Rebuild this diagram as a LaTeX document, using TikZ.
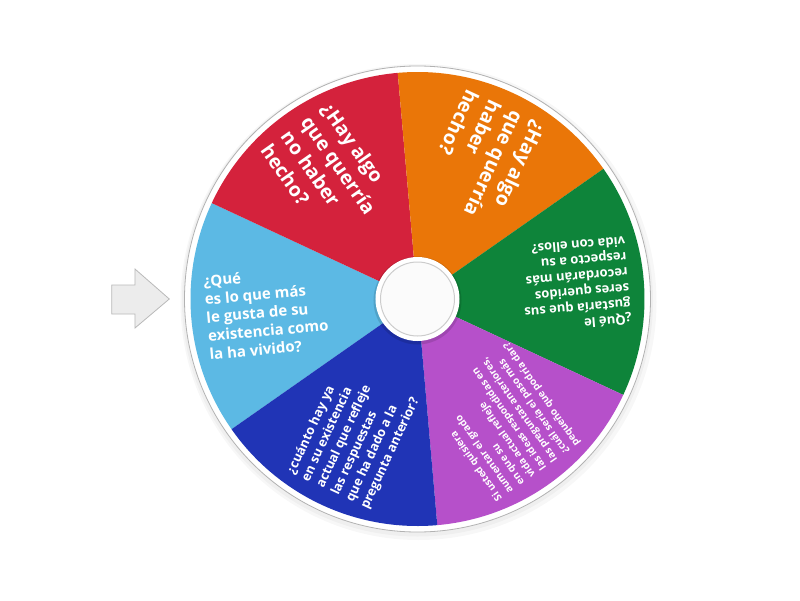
\documentclass[tikz,border=0pt]{standalone}
\usepackage{fontspec}
\setmainfont{Open Sans}
\definecolor{celeste}{RGB}{92,185,228}
\definecolor{rojo}{RGB}{212,34,60}
\definecolor{naranja}{RGB}{234,118,8}
\definecolor{verde}{RGB}{14,132,58}
\definecolor{morado}{RGB}{182,80,202}
\definecolor{azul}{RGB}{32,52,182}
\tikzset{
  qtext/.style={text=white, align=left, anchor=west, inner sep=0pt},
}

\begin{document}
\begin{tikzpicture}[x=1pt,y=1pt]
\useasboundingbox (-417.5,-301) rectangle (382.5,299);
% borde de la ruleta
\fill[black,opacity=0.03] (1,-3) circle[radius=238pt];
\fill[black,opacity=0.03] (0,-2) circle[radius=235.5pt];
\filldraw[fill=white,draw=gray!60,line width=0.8pt] (0,0) circle[radius=233pt];
\foreach \a/\c in {155/celeste,95/rojo,35/naranja,-25/verde,-85/morado,-145/azul}
  \fill[\c] (0,0) -- (\a:227) arc[start angle=\a,delta angle=60,radius=227pt] -- cycle;
% centro
\fill[black,opacity=0.12] (0,-1.5) circle[radius=44pt];
\fill[white] (0,0) circle[radius=42pt];
\draw[gray!40,line width=1pt,fill=gray!3] (0,0) circle[radius=37pt];
% preguntas
\node[qtext,rotate=5,font=\bfseries\fontsize{15}{18.3}\selectfont] (q1) at (185:212)
  {¿Qué\\es lo que más\\le gusta de su\\existencia como\\la ha vivido?};
\node[qtext,rotate=-55,font=\bfseries\fontsize{19.5}{24.6}\selectfont] (q2) at (125:212)
  {¿Hay algo\\que querría\\no haber\\hecho?};
\node[qtext,rotate=245,font=\bfseries\fontsize{19.5}{24.6}\selectfont] (q3) at (65:212)
  {¿Hay algo\\que querría\\haber\\hecho?};
\node[qtext,rotate=185,font=\bfseries\fontsize{13}{15.7}\selectfont] (q4) at (5:212)
  {¿Qué le\\gustaría que sus\\seres queridos\\recordarán más\\respecto a su\\vida con ellos?};
\node[qtext,rotate=125,font=\bfseries\fontsize{10}{13.5}\selectfont] (q5) at (-55:212)
  {Si usted quisiera\\aumentar el grado\\en que su\\vida actual refleje\\las ideas respondidas en\\las preguntas anteriores,\\¿cuál sería el paso más\\pequeño que podría dar?};
\node[qtext,rotate=65,font=\bfseries\fontsize{12.8}{16.3}\selectfont] (q6) at (-115:212)
  {¿cuánto hay ya\\en su existencia\\actual que refleje\\las respuestas\\que ha dado a la\\pregunta anterior?};
% flecha
\filldraw[fill=gray!15,draw=gray!55,line width=0.8pt]
  (-305.8,14) -- (-282.5,14) -- (-282.5,30) -- (-248.2,0) -- (-282.5,-29) -- (-282.5,-15) -- (-305.8,-15) -- cycle;
\end{tikzpicture}
\end{document}
